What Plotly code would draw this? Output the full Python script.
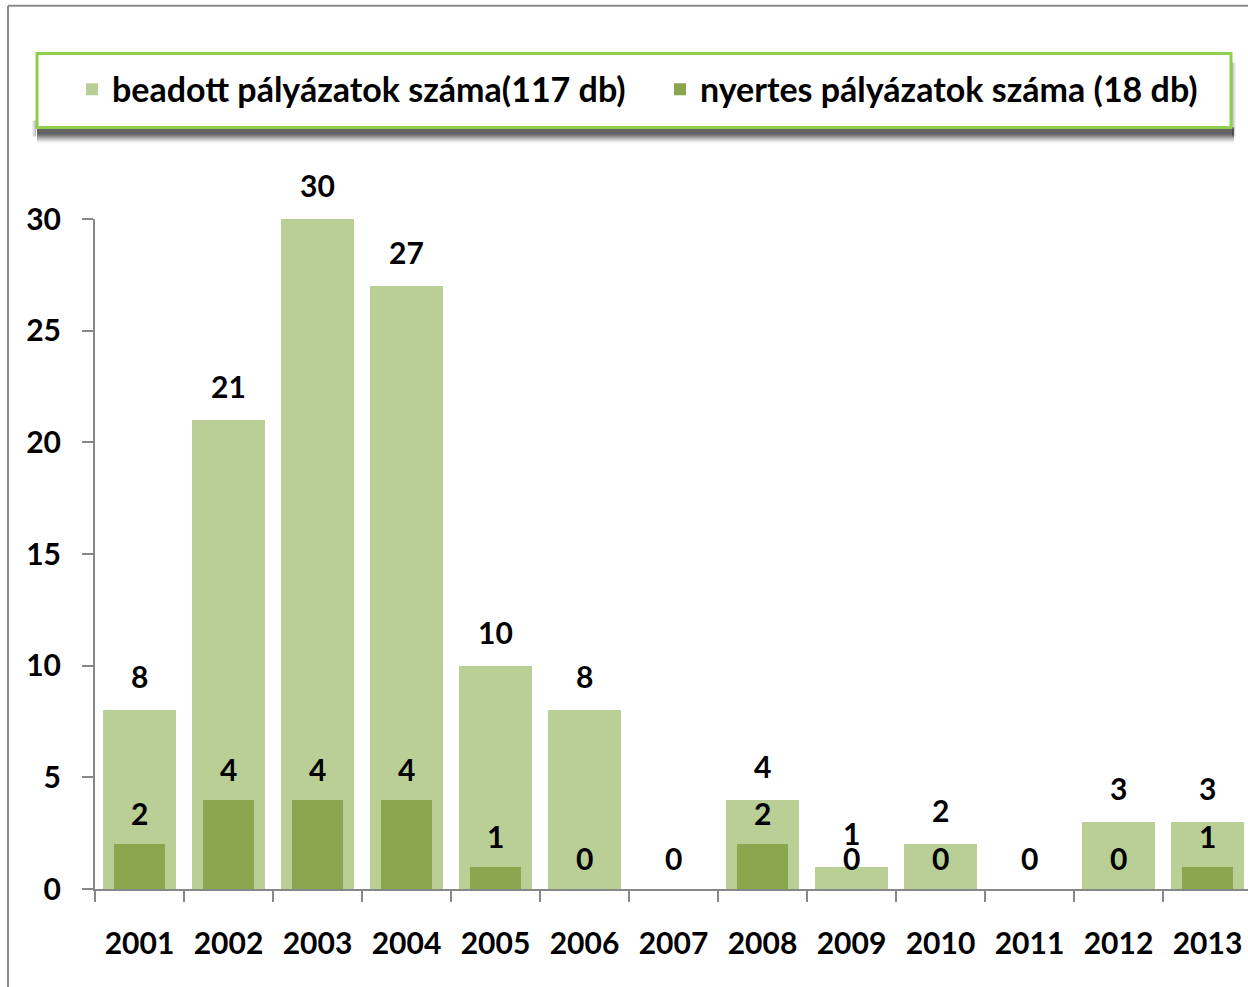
import plotly.graph_objects as go

years = ["2001", "2002", "2003", "2004", "2005", "2006", "2007",
         "2008", "2009", "2010", "2011", "2012", "2013"]
submitted = [8, 21, 30, 27, 10, 8, 0, 4, 1, 2, 0, 3, 3]
won = [2, 4, 4, 4, 1, 0, 0, 2, 0, 0, 0, 0, 1]
name_submitted = "beadott pályázatok száma(117 db)"
name_won = "nyertes pályázatok száma (18 db)"

LIGHT = "#BACF96"
DARK = "#8AA64E"
AXIS = "#878787"
FONT = "Lato"
FS = 30
LFS = 34

W, H = 1248, 987
PL, PR, PT, PB = 95, 1248, 218.5, 889


def px(x):
    return (x - PL) / (PR - PL)


def py(y):
    return (PB - y) / (PB - PT)


fig = go.Figure()
fig.add_trace(go.Bar(x=years, y=submitted, name=name_submitted,
                     marker=dict(color=LIGHT, line=dict(width=0)), width=0.82))
fig.add_trace(go.Bar(x=years, y=won, name=name_won,
                     marker=dict(color=DARK, line=dict(width=0)), width=0.57))

lab_font = dict(family=FONT, size=FS, color="black", weight="bold")
annotations = []
for i, (v, w) in enumerate(zip(submitted, won)):
    # where both values are equal the two labels share one spot, as in the original
    if v != w:
        annotations.append(dict(x=i, y=v, xref="x", yref="y", text=str(v), showarrow=False,
                                yanchor="middle", yshift=34, font=lab_font))
    annotations.append(dict(x=i, y=w, xref="x", yref="y", text=str(w), showarrow=False,
                            yanchor="middle", yshift=31, font=lab_font))

shapes = []
# outer frame (top and left edges)
shapes.append(dict(type="line", xref="paper", yref="paper", x0=px(8), x1=px(1260), y0=py(5), y1=py(5),
                   line=dict(color="#8C8C8C", width=2)))
shapes.append(dict(type="line", xref="paper", yref="paper", x0=px(8), x1=px(8), y0=py(5), y1=py(1000),
                   line=dict(color="#8C8C8C", width=2)))
# legend shadow
for k in range(17):
    if k <= 6:
        op = 0.75
    else:
        op = 0.75 * max(0.0, 1 - (k - 6) / 10) ** 1.5
    shapes.append(dict(type="rect", xref="paper", yref="paper",
                       x0=px(37), x1=px(1234), y0=py(127 + k), y1=py(128 + k),
                       fillcolor=f"rgba(0,0,0,{op:.3f})", line=dict(width=0)))
for k in range(4):
    op = 0.25 * (1 - k / 4)
    shapes.append(dict(type="rect", xref="paper", yref="paper",
                       x0=px(1232 + k), x1=px(1233 + k), y0=py(136), y1=py(62),
                       fillcolor=f"rgba(0,0,0,{op:.3f})", line=dict(width=0)))
    shapes.append(dict(type="rect", xref="paper", yref="paper",
                       x0=px(35 - k), x1=px(36 - k), y0=py(136), y1=py(120),
                       fillcolor=f"rgba(0,0,0,{op:.3f})", line=dict(width=0)))
# legend box
shapes.append(dict(type="rect", xref="paper", yref="paper", x0=px(37), x1=px(1231), y0=py(127), y1=py(53),
                   fillcolor="white", line=dict(color="#8ED04E", width=3)))

fig.update_layout(
    width=W, height=H,
    margin=dict(l=PL, r=W - PR, t=PT, b=H - PB, pad=0),
    paper_bgcolor="white", plot_bgcolor="white",
    barmode="overlay", bargap=0,
    font=dict(family=FONT, size=FS, color="black", weight="bold"),
    showlegend=True,
    legend=dict(orientation="h", x=px(94), xanchor="left", y=py(89), yanchor="middle",
                bgcolor="rgba(0,0,0,0)", borderwidth=0,
                font=dict(family=FONT, size=LFS, color="black", weight="bold"),
                entrywidth=543, entrywidthmode="pixels", traceorder="normal"),
    xaxis=dict(type="category", range=[-0.5, 12.455], tickson="boundaries",
               ticks="outside", ticklen=11, tickwidth=2, tickcolor=AXIS,
               showline=True, linecolor=AXIS, linewidth=2, showgrid=False, zeroline=False,
               ticklabelstandoff=27, tickfont=lab_font),
    yaxis=dict(range=[0, 30], tickvals=[0, 5, 10, 15, 20, 25, 30],
               ticks="outside", ticklen=11, tickwidth=2, tickcolor=AXIS,
               showline=True, linecolor=AXIS, linewidth=2, showgrid=False, zeroline=False,
               ticklabelstandoff=15, tickfont=lab_font),
    annotations=annotations,
    shapes=shapes,
)

fig.write_html("out.html", config={"displayModeBar": False},
               post_script="document.body.style.margin='0';")
